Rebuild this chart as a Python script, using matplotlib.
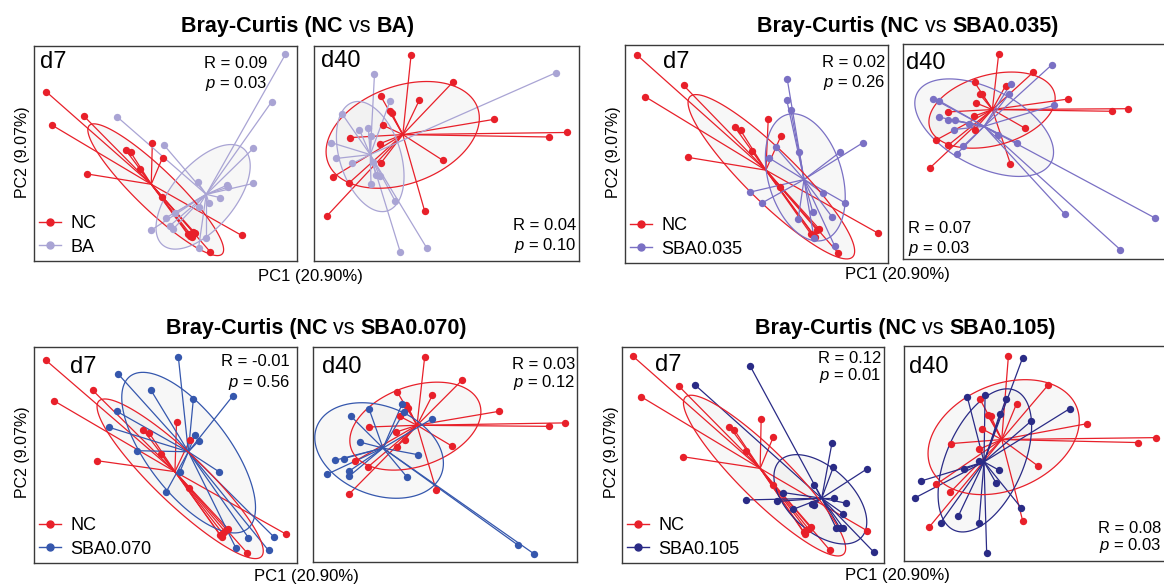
import numpy as np
import matplotlib
matplotlib.use('Agg')
import matplotlib.pyplot as plt
from matplotlib.patches import Polygon
from matplotlib.lines import Line2D

# PCoA scores (Bray-Curtis), read per panel on a 0-100 scale of each plot box
# --- NC vs BA ---
ba_d7_nc_x = [4.6, 7.0, 19.0, 20.2, 34.9, 36.8, 40.2, 45.0, 48.9, 48.7, 58.5, 59.4, 60.4, 61.1, 60.2, 79.0, 67.0]
ba_d7_nc_y = [78.8, 63.1, 67.4, 40.5, 51.6, 50.5, 42.6, 54.7, 48.1, 29.8, 12.4, 11.6, 13.6, 13.2, 11.3, 11.9, 4.3]
ba_d7_trt_x = [95.6, 90.4, 31.6, 49.4, 83.4, 62.2, 73.3, 73.8, 83.4, 70.8, 66.5, 62.6, 53.7, 50.3, 51.6, 52.8, 44.6, 65.5, 62.6]
ba_d7_trt_y = [96.1, 74.1, 67.1, 54.0, 52.4, 36.7, 35.2, 34.4, 36.1, 29.5, 27.1, 25.3, 22.5, 20.2, 16.3, 14.7, 14.4, 10.5, 6.2]
ba_d7_centroids = [(44.6, 35.7), (65.5, 31.0)]

ba_d40_nc_x = [36.6, 52.3, 25.2, 39.7, 28.7, 29.3, 25.9, 67.9, 13.4, 24.9, 88.5, 95.5, 48.5, 25.3, 7.3, 13.0, 41.7, 4.8]
ba_d40_nc_y = [95.7, 83.1, 76.6, 74.8, 69.7, 68.9, 63.2, 65.9, 57.4, 54.6, 57.7, 59.8, 46.9, 45.7, 39.2, 36.1, 23.4, 20.9]
ba_d40_trt_x = [22.8, 91.1, 28.7, 10.5, 17.1, 20.5, 21.5, 6.4, 8.3, 14.5, 22.4, 23.4, 24.7, 21.5, 30.6, 32.5, 42.6]
ba_d40_trt_y = [86.8, 87.5, 74.5, 68.6, 61.1, 61.9, 58.2, 55.1, 47.7, 45.4, 46.1, 39.9, 39.6, 35.6, 27.9, 4.3, 5.9]
ba_d40_centroids = [(33.5, 58.8), (21.2, 49.5)]

# --- NC vs SBA0.035 ---
s035_d7_nc_x = [4.7, 7.7, 22.3, 23.8, 41.8, 44.0, 48.4, 54.5, 59.3, 59.1, 70.6, 71.6, 72.9, 73.9, 72.4, 96.1, 81.1]
s035_d7_nc_y = [95.3, 76.3, 81.5, 48.5, 62.3, 60.8, 51.3, 66.3, 58.2, 34.8, 13.5, 12.9, 15.3, 15.6, 11.9, 13.8, 4.6]
s035_d7_trt_x = [61.7, 61.5, 63.1, 66.3, 90.4, 81.7, 54.8, 57.4, 47.5, 52.2, 75.4, 83.7, 71.4, 65.9, 78.8, 71.9, 79.8]
s035_d7_trt_y = [84.5, 75.0, 70.0, 50.8, 55.1, 50.8, 48.2, 53.1, 32.5, 27.6, 31.9, 27.6, 23.4, 20.4, 21.1, 11.5, 7.7]
s035_d7_centroids = [(53.6, 42.6), (68.1, 38.3)]

s035_d40_nc_x = [36.1, 49.1, 27.0, 38.7, 28.9, 29.9, 27.4, 62.3, 17.0, 26.7, 79.0, 84.9, 45.9, 27.0, 12.3, 17.0, 40.5, 10.1]
s035_d40_nc_y = [95.5, 86.8, 82.2, 80.6, 76.7, 76.7, 72.6, 74.4, 68.4, 66.4, 68.7, 69.9, 60.9, 60.2, 55.2, 52.9, 44.3, 42.3]
s035_d40_trt_x = [56.2, 40.6, 40.0, 57.0, 11.3, 13.6, 13.5, 17.0, 19.5, 24.9, 19.1, 35.8, 43.1, 22.6, 20.4, 61.0, 95.0, 82.0]
s035_d40_trt_y = [90.4, 81.4, 76.7, 71.5, 74.6, 73.6, 66.0, 64.8, 64.5, 62.9, 60.2, 57.8, 54.0, 52.4, 49.0, 20.9, 19.1, 4.3]
s035_d40_centroids = [(33.7, 69.5), (30.6, 61.7)]

# --- NC vs SBA0.070 ---
s070_d7_nc_x = [4.6, 7.6, 22.3, 23.8, 41.6, 43.9, 48.3, 54.2, 59.3, 59.1, 70.7, 71.7, 72.6, 73.9, 71.4, 95.8, 81.1]
s070_d7_nc_y = [93.8, 75.1, 80.0, 47.4, 61.5, 60.0, 50.3, 65.1, 56.9, 34.6, 13.1, 13.8, 14.6, 15.7, 12.0, 13.4, 4.6]
s070_d7_trt_x = [54.9, 32.1, 44.5, 60.6, 75.5, 31.4, 28.6, 61.2, 62.7, 39.3, 55.5, 70.3, 50.2, 81.5, 91.3, 76.8, 89.2]
s070_d7_trt_y = [95.4, 87.4, 80.0, 75.8, 77.2, 70.3, 62.8, 59.2, 56.6, 52.0, 42.3, 42.3, 32.8, 11.8, 12.0, 6.9, 5.8]
s070_d7_centroids = [(53.6, 42.3), (58.7, 51.5)]

s070_d40_nc_x = [42.3, 56.4, 31.9, 45.2, 35.4, 36.0, 70.5, 32.8, 21.1, 31.6, 89.3, 95.3, 52.8, 34.7, 31.8, 15.8, 20.8, 46.7, 13.6]
s070_d40_nc_y = [95.3, 84.5, 79.1, 77.5, 73.2, 71.8, 70.1, 67.8, 62.8, 60.5, 63.1, 64.7, 53.8, 56.9, 53.5, 46.8, 44.2, 33.3, 31.5]
s070_d40_trt_x = [14.3, 21.2, 33.7, 34.5, 45.2, 17.7, 11.6, 8.2, 5.3, 13.6, 13.6, 39.8, 35.6, 77.7, 83.6]
s070_d40_trt_y = [67.9, 71.3, 73.3, 69.8, 66.7, 55.8, 48.1, 47.3, 40.8, 42.2, 39.8, 49.9, 39.5, 7.8, 3.9]
s070_d40_centroids = [(39.4, 63.6), (26.5, 53.0)]

# --- NC vs SBA0.105 ---
s105_d7_nc_x = [4.2, 7.4, 21.6, 23.3, 41.0, 42.9, 47.4, 53.1, 57.8, 57.6, 69.3, 70.3, 71.2, 72.0, 69.9, 93.6, 79.4]
s105_d7_nc_y = [95.7, 76.9, 82.0, 49.2, 63.1, 61.5, 51.8, 66.9, 58.5, 36.2, 14.2, 15.4, 15.7, 16.9, 13.5, 14.9, 5.8]
s105_d7_trt_x = [48.9, 28.0, 80.1, 80.7, 93.4, 73.3, 61.6, 47.4, 59.1, 65.4, 72.4, 73.3, 80.9, 85.5, 84.5, 81.7, 83.2, 84.5, 96.2]
s105_d7_trt_y = [91.2, 82.3, 55.4, 44.6, 43.5, 36.2, 32.6, 29.2, 28.5, 24.9, 27.4, 26.9, 30.0, 27.7, 22.8, 16.2, 16.2, 16.2, 4.9]
s105_d7_centroids = [(52.7, 43.8), (76.2, 30.0)]

s105_d40_nc_x = [39.4, 54.5, 28.7, 42.5, 31.6, 32.7, 29.3, 69.2, 17.6, 28.3, 88.4, 95.1, 50.7, 12.1, 17.4, 44.8, 9.6]
s105_d40_nc_y = [95.2, 82.0, 75.2, 73.2, 67.8, 67.5, 61.6, 63.9, 54.6, 52.0, 55.1, 57.4, 44.1, 35.6, 31.9, 18.7, 15.9]
s105_d40_trt_x = [44.8, 23.9, 30.6, 38.4, 36.2, 62.6, 47.9, 28.3, 22.6, 35.8, 6.4, 34.7, 4.2, 44.2, 20.5, 13.8, 28.3, 31.2]
s105_d40_trt_y = [94.6, 76.3, 77.4, 75.2, 68.6, 70.9, 65.0, 46.4, 42.6, 42.3, 37.2, 36.4, 29.4, 24.8, 20.9, 17.8, 17.5, 3.9]
s105_d40_centroids = [(36.9, 56.5), (30.2, 46.1)]

# ANOSIM results
anosim_R = ['0.09', '0.04', '0.02', '0.07', '-0.01', '0.03', '0.12', '0.08']
anosim_p = ['0.03', '0.10', '0.26', '0.03', '0.56', '0.12', '0.01', '0.03']
treatments = ['BA', 'SBA0.035', 'SBA0.070', 'SBA0.105']

colors = {'NC': '#e8202a', 'BA': '#a9a4d4', 'SBA0.035': '#7a70c4',
          'SBA0.070': '#3557ad', 'SBA0.105': '#2a2b86'}

plt.rcParams['font.family'] = ['Liberation Sans', 'DejaVu Sans']
plt.rcParams['mathtext.fontset'] = 'custom'
plt.rcParams['mathtext.it'] = 'Liberation Sans:italic'
plt.rcParams['mathtext.rm'] = 'Liberation Sans'

fig = plt.figure(figsize=(11.64, 5.85), dpi=100)


def cov_trob(P, nu=5, maxit=25, tol=0.01):
    # multivariate t (robust) location/scatter, as MASS::cov.trob
    n, p = P.shape
    loc = P.mean(axis=0)
    w = np.ones(n)
    for _ in range(maxit):
        w0 = w
        X = P - loc
        A = (X * (w / w.sum())[:, None]).T @ X
        Q = np.einsum('ij,jk,ik->i', X, np.linalg.inv(A), X)
        w = (nu + p) / (nu + Q)
        loc = (w[:, None] * P).sum(axis=0) / w.sum()
        if np.all(np.abs(w - w0) < tol):
            break
    cov = (X * w[:, None]).T @ X / n
    return loc, cov


def t_ellipse(xs, ys, level=0.6, segments=120):
    # same construction as ggplot2 stat_ellipse(type = "t")
    P = np.column_stack([xs, ys])
    n = len(P)
    centre, cov = cov_trob(P)
    d = n - 1
    qf = d / 2 * ((1 - level) ** (-2 / d) - 1)   # F(2, d) quantile
    radius = np.sqrt(2 * qf)
    R = np.linalg.cholesky(cov).T
    t = np.linspace(0, 2 * np.pi, segments + 1)
    circle = np.column_stack([np.cos(t), np.sin(t)])
    return centre + radius * circle @ R


def draw_group(ax, xs, ys, centre, color):
    xs = np.asarray(xs)
    ys = np.asarray(ys)
    cx, cy = centre
    ell = t_ellipse(xs, ys)
    ax.add_patch(Polygon(ell, closed=True, facecolor='#eeeeee', alpha=0.45,
                         edgecolor='none', zorder=1))
    ax.add_patch(Polygon(ell, closed=True, facecolor='none', edgecolor=color,
                         lw=0.9, zorder=3))
    for x, y in zip(xs, ys):
        ax.plot([cx, x], [cy, y], color=color, lw=0.9, zorder=2)
    ax.scatter(xs, ys, s=28, color=color, zorder=4, linewidths=0)


# axes rectangles (figure fraction) and text anchors, per panel
rects = [
    [0.0292, 0.5538, 0.2259, 0.3675], [0.2698, 0.5538, 0.2277, 0.3675],
    [0.5369, 0.5504, 0.2259, 0.3726], [0.7758, 0.5573, 0.2277, 0.3675],
    [0.0292, 0.0376, 0.2259, 0.3692], [0.2689, 0.0393, 0.2268, 0.3675],
    [0.5344, 0.0376, 0.2251, 0.3692], [0.7766, 0.0410, 0.2277, 0.3675],
]
day_pos = [(0.023, 0.926), (0.026, 0.930), (0.144, 0.922), (0.011, 0.912),
           (0.137, 0.907), (0.034, 0.907), (0.126, 0.917), (0.019, 0.902)]
stat_pos = [(0.886, 0.921, 0.828, 'right'), (0.989, 0.163, 0.070, 'right'),
            (0.989, 0.922, 0.830, 'right'), (0.019, 0.140, 0.051, 'left'),
            (0.973, 0.931, 0.838, 'right'), (0.995, 0.921, 0.837, 'right'),
            (0.989, 0.949, 0.866, 'right'), (0.972, 0.149, 0.070, 'right')]

panels = [
    (ba_d7_nc_x, ba_d7_nc_y, ba_d7_trt_x, ba_d7_trt_y, ba_d7_centroids),
    (ba_d40_nc_x, ba_d40_nc_y, ba_d40_trt_x, ba_d40_trt_y, ba_d40_centroids),
    (s035_d7_nc_x, s035_d7_nc_y, s035_d7_trt_x, s035_d7_trt_y, s035_d7_centroids),
    (s035_d40_nc_x, s035_d40_nc_y, s035_d40_trt_x, s035_d40_trt_y, s035_d40_centroids),
    (s070_d7_nc_x, s070_d7_nc_y, s070_d7_trt_x, s070_d7_trt_y, s070_d7_centroids),
    (s070_d40_nc_x, s070_d40_nc_y, s070_d40_trt_x, s070_d40_trt_y, s070_d40_centroids),
    (s105_d7_nc_x, s105_d7_nc_y, s105_d7_trt_x, s105_d7_trt_y, s105_d7_centroids),
    (s105_d40_nc_x, s105_d40_nc_y, s105_d40_trt_x, s105_d40_trt_y, s105_d40_centroids),
]

for i, (nx, ny, tx, ty, cents) in enumerate(panels):
    trt = treatments[i // 2]
    ax = fig.add_axes(rects[i])
    ax.set_xlim(0, 100)
    ax.set_ylim(0, 100)
    ax.set_xticks([])
    ax.set_yticks([])
    for sp in ax.spines.values():
        sp.set_color('#3a3a3a')
        sp.set_linewidth(1.0)
    draw_group(ax, nx, ny, cents[0], colors['NC'])
    draw_group(ax, tx, ty, cents[1], colors[trt])

    day = 'd7' if i % 2 == 0 else 'd40'
    ax.text(day_pos[i][0], day_pos[i][1], day, transform=ax.transAxes,
            fontsize=17, ha='left', va='center', zorder=6)
    sx, ry, py, ha = stat_pos[i]
    ax.text(sx, ry, f'R = {anosim_R[i]}', transform=ax.transAxes,
            fontsize=12, ha=ha, va='center', zorder=6)
    ax.text(sx, py, r'$p$ = ' + anosim_p[i], transform=ax.transAxes,
            fontsize=12, ha=ha, va='center', zorder=6)

    if i % 2 == 0:
        handles = [Line2D([], [], color=colors['NC'], marker='o', ms=5, lw=1),
                   Line2D([], [], color=colors[trt], marker='o', ms=5, lw=1)]
        ax.legend(handles, ['NC', trt], loc='lower left', bbox_to_anchor=(0, 0),
                  frameon=False, fontsize=13, handlelength=1.2,
                  handletextpad=0.5, labelspacing=0.35, borderpad=0.3,
                  borderaxespad=0.0)

# titles with mixed weights
titles = [(0.256, 0.954), (0.780, 0.954), (0.272, 0.439), (0.778, 0.439)]
renderer = fig.canvas.get_renderer()
for (cx, cy), trt in zip(titles, treatments):
    parts = [('Bray-Curtis (NC', 'bold'), (' vs ', 'normal'), (trt + ')', 'bold')]
    objs = [fig.text(0, cy, s, fontweight=w, fontsize=15.5, va='center')
            for s, w in parts]
    widths = [o.get_window_extent(renderer).width / fig.bbox.width for o in objs]
    x = cx - sum(widths) / 2
    for o, w in zip(objs, widths):
        o.set_x(x)
        x += w

for (x, y) in [(0.267, 0.528), (0.771, 0.530), (0.263, 0.015), (0.771, 0.017)]:
    fig.text(x, y, 'PC1 (20.90%)', fontsize=12, ha='center', va='center')
for (x, y) in [(0.019, 0.740), (0.527, 0.740), (0.019, 0.227), (0.525, 0.227)]:
    fig.text(x, y, 'PC2 (9.07%)', fontsize=11.5, ha='center', va='center',
             rotation=90)

fig.savefig('out.png', dpi=100)
